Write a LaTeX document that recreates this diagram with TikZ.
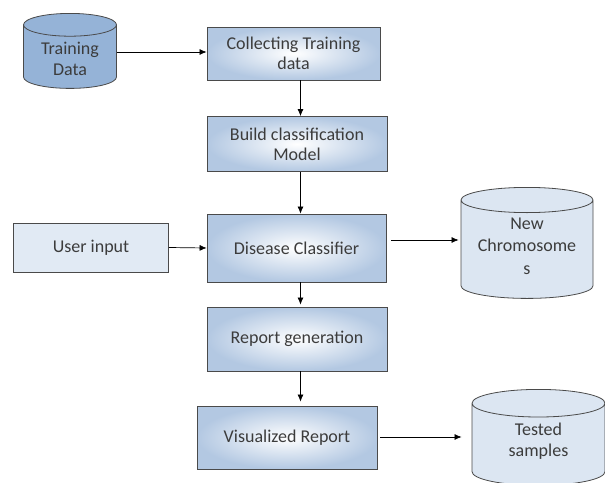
\documentclass[tikz,border=0pt]{standalone}
\usepackage{fontspec}
\setmainfont{Carlito}
\usetikzlibrary{shapes.geometric,arrows.meta}

\definecolor{boxblue}{HTML}{B3C8E2}
\definecolor{dbblue}{HTML}{95B3D7}
\definecolor{dblight}{HTML}{DCE6F2}
\definecolor{edgegray}{HTML}{4A4A4A}
\definecolor{textgray}{HTML}{3C3C3C}

\tikzset{
  process/.style={draw=edgegray, line width=0.8pt, inner color=white, outer color=boxblue,
    text=textgray, align=center, font=\fontsize{18}{20}\selectfont},
  plainbox/.style={draw=edgegray, line width=0.8pt, fill=dblight!85!white,
    text=textgray, align=center, font=\fontsize{18}{20}\selectfont},
  database/.style={cylinder, shape border rotate=90, draw=edgegray, line width=0.8pt, inner sep=0pt,
    text width=60pt, anchor=north},
  dbtext/.style={text=textgray, align=center, font=\fontsize{18}{21}\selectfont},
  flow/.style={-{Latex[length=7pt,width=6pt]}, line width=0.7pt, black}
}

\begin{document}
\begin{tikzpicture}[x=1pt,y=-1pt]
            \useasboundingbox (0,0) rectangle (605,482);
            \node[database, fill=dbblue, minimum width=93pt, minimum height=75pt, aspect=0.38] (train) at (70,13) {};
            \node[dbtext] (traintext) at (70,59) {Training\\Data};
            \node[process, minimum width=173pt, minimum height=53pt] (collect) at (293.5,53.5) {Collecting Training\\data};
            \node[process, minimum width=180pt, minimum height=55pt] (build) at (297,144) {Build classification\\Model};
            \node[process, minimum width=179pt, minimum height=68pt] (classifier) at (296.5,248) {Disease Classifier};
            \node[plainbox, minimum width=155pt, minimum height=49pt] (user) at (91,247.5) {User input};
            \node[database, fill=dblight, minimum width=132pt, minimum height=111pt, aspect=0.42] (chromo) at (527,187) {};
            \node[dbtext, font=\fontsize{18}{22.5}\selectfont] (chromotext) at (527,246) {New\\Chromosome\\s};
            \node[process, minimum width=180pt, minimum height=64pt] (report) at (297,339) {Report generation};
            \node[process, minimum width=180pt, minimum height=63pt] (visual) at (287,437.5) {Visualized Report};
            \node[database, fill=dblight, minimum width=133pt, minimum height=96pt, aspect=0.46] (tested) at (538.5,389) {};
            \node[dbtext] (testedtext) at (538.5,441) {Tested\\samples};
            \coordinate (col) at (300.5,0);
            \draw [flow] (train.east |- 0,52) -- (collect.west |- 0,52);
            \draw [flow] (collect.south -| col) -- (build.north -| col);
            \draw [flow] (build.south -| col) -- (classifier.north -| col);
            \draw [flow] (user.east) -- (classifier.west);
            \draw [flow, shorten <=5pt, shorten >=2pt] (classifier.east |- 0,240) -- (chromo.west |- 0,240);
            \draw [flow, shorten >=2pt] (classifier.south -| col) -- (report.north -| col);
            \draw [flow, shorten >=4pt] (report.south -| col) -- (visual.north -| col);
            \draw [flow, shorten <=3pt, shorten >=10pt] (visual.east |- 0,437) -- (tested.west |- 0,437);
        \end{tikzpicture}
\end{document}
